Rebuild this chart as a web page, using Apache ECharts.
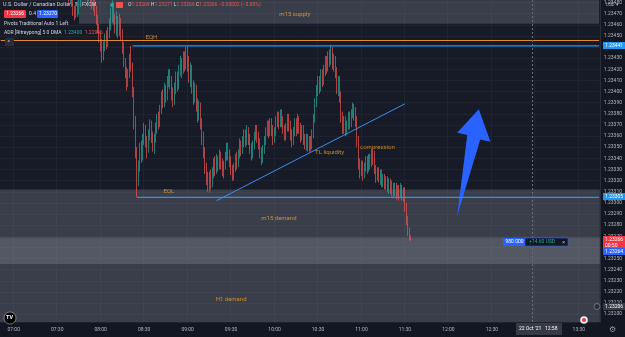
<!DOCTYPE html>
<html>
<head>
<meta charset="utf-8">
<title>USDCAD 1m</title>
<script src="https://cdn.jsdelivr.net/npm/echarts@6/dist/echarts.min.js"></script>
<style>
    html, body { margin: 0; padding: 0; background: #131722; overflow: hidden; }
    #main { width: 625px; height: 337px; }
</style>
</head>
<body>
<div id="main"></div>
<script type="text/javascript">
// prices in 1e-5 units (23266 = 1.23266), rows are [open, close, low, high]
var bars0738 = [
    [23485,23482,23478,23490],[23482,23486,23479,23489],[23486,23480,23476,23488],[23480,23474,23468,23483],
    [23474,23470,23464,23477],[23470,23476,23466,23480],[23476,23472,23467,23481],[23472,23479,23469,23484],
    [23479,23485,23476,23490],[23485,23488,23482,23494],[23488,23486,23483,23493],[23486,23490,23484,23496],
    [23490,23487,23483,23493],[23487,23484,23480,23490],[23484,23488,23481,23492],[23488,23483,23478,23491],
    [23483,23478,23474,23486],[23478,23481,23472,23485],[23481,23474,23468,23484],[23474,23466,23460,23477],
    [23466,23458,23452,23469],[23458,23450,23444,23461]
];
var bars0800 = [
    [23450,23444,23436,23453],[23444,23432,23426,23447],[23432,23440,23428,23445],[23440,23448,23436,23452],
    [23448,23444,23438,23455],[23444,23452,23440,23458],[23452,23460,23448,23466],[23460,23468,23455,23475],
    [23468,23474,23462,23482],[23474,23466,23460,23480],[23466,23458,23452,23470],[23458,23464,23450,23472],
    [23464,23455,23448,23468],[23455,23460,23450,23470],[23460,23452,23446,23466],[23452,23440,23434,23456],
    [23440,23426,23422,23444],[23426,23418,23412,23430],[23418,23408,23401,23422],[23408,23416,23404,23420],
    [23416,23430,23412,23434],[23430,23422,23418,23441],[23422,23400,23395,23426],[23400,23372,23366,23404],
    [23372,23345,23340,23378],[23345,23322,23305,23350],[23322,23334,23315,23338],[23334,23350,23328,23354],
    [23350,23342,23336,23356],[23342,23358,23338,23362],[23358,23366,23352,23372],[23366,23355,23350,23370],
    [23355,23348,23340,23360],[23348,23362,23345,23366],[23362,23370,23356,23375],[23370,23360,23354,23374],
    [23360,23352,23346,23364],[23352,23358,23344,23362],[23358,23366,23354,23372],[23366,23376,23362,23380],
    [23376,23372,23366,23382],[23372,23384,23368,23388],[23384,23395,23380,23400],[23395,23390,23385,23402],
    [23390,23402,23386,23408],[23402,23396,23390,23406],[23396,23408,23392,23414],[23408,23416,23404,23420],
    [23416,23410,23402,23420],[23410,23398,23392,23414],[23398,23392,23386,23404],[23392,23404,23388,23408],
    [23404,23412,23398,23418],[23412,23406,23400,23418],[23406,23418,23402,23424],[23418,23426,23414,23432],
    [23426,23420,23412,23430],[23420,23430,23416,23436],[23430,23424,23418,23436],[23424,23434,23420,23440]
];
var bars0900 = [
    [23434,23426,23418,23441],[23426,23414,23408,23432],[23414,23420,23404,23426],[23420,23406,23398,23424],
    [23406,23396,23388,23410],[23396,23402,23390,23408],[23402,23390,23382,23406],[23390,23380,23372,23394],
    [23380,23386,23374,23392],[23386,23372,23366,23390],[23372,23360,23352,23376],[23360,23346,23340,23364],
    [23346,23332,23326,23350],[23332,23322,23316,23336],[23322,23316,23310,23328],[23316,23325,23309,23328],
    [23325,23318,23312,23330],[23318,23328,23314,23332],[23328,23336,23322,23340],[23336,23330,23324,23342],
    [23330,23338,23326,23344],[23338,23334,23328,23342],[23334,23342,23330,23348],[23342,23336,23330,23346],
    [23336,23328,23324,23340],[23328,23334,23322,23338],[23334,23342,23330,23346],[23342,23350,23338,23354],
    [23350,23344,23338,23354],[23344,23338,23332,23348],[23338,23330,23325,23342],[23330,23324,23320,23334],
    [23324,23332,23320,23336],[23332,23340,23328,23344],[23340,23336,23330,23346],[23336,23344,23332,23348],
    [23344,23352,23340,23358],[23352,23348,23342,23356],[23348,23356,23344,23360],[23356,23362,23350,23366],
    [23362,23356,23350,23366],[23356,23364,23352,23370],[23364,23358,23352,23368],[23358,23350,23344,23362],
    [23350,23344,23338,23354],[23344,23352,23340,23356],[23352,23360,23348,23364],[23360,23366,23356,23370],
    [23366,23360,23354,23370],[23360,23354,23348,23364],[23354,23346,23340,23358],[23346,23340,23334,23350],
    [23340,23348,23336,23352],[23348,23356,23344,23360],[23356,23364,23352,23368],[23364,23370,23360,23374],
    [23370,23364,23358,23374],[23364,23372,23360,23376],[23372,23366,23360,23376],[23366,23358,23352,23370]
];
var bars1000 = [
    [23358,23364,23354,23368],[23364,23372,23360,23378],[23372,23378,23368,23382],[23378,23372,23366,23382],
    [23372,23380,23368,23384],[23380,23374,23368,23384],[23374,23366,23362,23378],[23366,23360,23356,23370],
    [23360,23368,23356,23372],[23368,23376,23364,23380],[23376,23370,23364,23380],[23370,23362,23356,23374],
    [23362,23356,23350,23366],[23356,23364,23352,23368],[23364,23372,23360,23376],[23372,23366,23360,23376],
    [23366,23374,23362,23380],[23374,23368,23362,23378],[23368,23360,23354,23372],[23360,23366,23356,23370],
    [23366,23358,23352,23370],[23358,23352,23348,23362],[23352,23358,23347,23362],[23358,23352,23346,23362],
    [23352,23356,23346,23360],[23356,23350,23346,23360],[23350,23362,23348,23366],[23362,23376,23358,23380],
    [23376,23390,23372,23394],[23390,23402,23386,23406],[23402,23410,23396,23414],[23410,23404,23398,23414],
    [23404,23416,23400,23420],[23416,23410,23404,23420],[23410,23420,23406,23424],[23420,23428,23414,23432],
    [23428,23422,23416,23432],[23422,23432,23418,23436],[23432,23428,23422,23438],[23428,23436,23424,23442],
    [23436,23424,23420,23440],[23424,23430,23418,23434],[23430,23418,23412,23432],[23418,23404,23398,23422],
    [23404,23410,23396,23414],[23410,23396,23390,23414],[23396,23378,23372,23400],[23378,23368,23362,23382],
    [23368,23374,23362,23378],[23374,23366,23360,23378],[23366,23370,23361,23374],[23370,23378,23366,23382],
    [23378,23372,23366,23382],[23372,23380,23368,23384],[23380,23386,23376,23390],[23386,23380,23374,23389],
    [23380,23374,23368,23386],[23374,23356,23350,23378],[23356,23336,23330,23360],[23336,23328,23322,23340]
];
var bars1100 = [
    [23328,23334,23324,23338],[23334,23326,23320,23338],[23326,23332,23322,23336],[23332,23338,23328,23342],
    [23338,23332,23326,23342],[23332,23340,23328,23344],[23340,23336,23330,23344],[23336,23344,23332,23348],
    [23344,23340,23334,23348],[23340,23330,23326,23347],[23330,23324,23318,23334],[23324,23328,23320,23332],
    [23328,23322,23318,23332],[23322,23326,23316,23330],[23326,23318,23314,23330],[23318,23322,23314,23326],
    [23322,23316,23312,23326],[23316,23320,23312,23324],[23320,23314,23310,23324],[23314,23318,23308,23322],
    [23318,23312,23308,23322],[23312,23316,23306,23320],[23316,23310,23304,23318],[23310,23314,23306,23318],
    [23314,23308,23303,23318],[23308,23312,23304,23316],[23312,23308,23302,23316],[23308,23313,23304,23318],
    [23313,23306,23302,23316],[23306,23310,23301,23314],[23310,23296,23292,23314],[23296,23284,23280,23300],
    [23284,23274,23270,23288],[23274,23269,23266,23278],[23269,23266,23266,23271]
];
var segments = [['07:38', bars0738], ['08:00', bars0800], ['09:00', bars0900], ['10:00', bars1000], ['11:00', bars1100]];

// drawn levels and zones
var eqhLevel = 1.23441, eqlLevel = 1.23305, adrLevel = 1.23446, crossLevel = 1.23206;
var supplyZone = [1.23461, 1.23482];
var m15Demand = [1.23312, 1.23245];
var h1Demand = [1.23269, 1.23193];
var trendLine = [['09:20', 1.23302], ['11:30', 1.23389]];
var arrowPoints = [['12:06', 1.23288], ['12:13', 1.23361], ['12:06', 1.23363], ['12:21', 1.23384], ['12:29', 1.23355], ['12:22', 1.23357]];
var notes = [
    ['10:14', 1.23469, 'm15 supply'],
    ['08:35', 1.23449, 'EQH'],
    ['08:47', 1.23310, 'EQL'],
    ['10:38', 1.23345, 'TL liquidity'],
    ['11:11', 1.23350, 'compression'],
    ['10:03', 1.23286, 'm15 demand'],
    ['09:30', 1.23213, 'H1 demand']
];

function pad(n) { return n < 10 ? '0' + n : '' + n; }
var categories = [];
for (var m = -9; m <= 404; m++) {
    var t = 420 + m;
    categories.push(pad(Math.floor(t / 60)) + ':' + pad(t % 60));
}
function px(v) { return +(1 + v / 1e5).toFixed(5); }
var candleData = categories.map(function () { return '-'; });
segments.forEach(function (s) {
    var start = categories.indexOf(s[0]);
    s[1].forEach(function (b, i) { candleData[start + i] = b.map(px); });
});
var lastCat = categories[categories.length - 1];
var FONT = 'Roboto, "Noto Sans", sans-serif';
var zoneColor = 'rgba(150,154,166,0.28)';

var myChart = echarts.init(document.getElementById('main'));
var option = {
    backgroundColor: '#131722',
    animation: false,
    textStyle: { fontFamily: FONT },
    grid: { left: 0, top: 0, width: 603, height: 322, show: true, backgroundColor: '#171b27', borderWidth: 0 },
    xAxis: {
        type: 'category',
        data: categories,
        boundaryGap: true,
        axisLine: { show: false },
        axisTick: { show: false },
        axisLabel: {
            color: '#b2b5be', fontSize: 5, margin: 5,
            interval: function (i, v) { return (+v.slice(3)) % 30 === 0 && v !== '13:00'; }
        },
        splitLine: {
            show: true,
            interval: function (i, v) { return (+v.slice(3)) % 30 === 0; },
            lineStyle: { color: '#1f2330', width: 1 }
        }
    },
    yAxis: {
        type: 'value',
        position: 'right',
        min: 1.23193,
        max: 1.23482,
        splitNumber: 29,
        axisLine: { show: true, lineStyle: { color: '#2a2e39' } },
        axisTick: { show: false },
        axisLabel: {
            color: '#b2b5be', fontSize: 5, margin: 4, showMinLabel: false, showMaxLabel: false,
            formatter: function (v) { return v.toFixed(5); }
        },
        splitLine: { lineStyle: { color: '#1f2330', width: 1 } }
    },
    series: [
        {
            type: 'candlestick',
            z: 2,
            data: candleData,
            barWidth: 1.2,
            itemStyle: {
                color: '#26a69a', color0: '#ef5350',
                borderColor: '#26a69a', borderColor0: '#ef5350', borderWidth: 0.7
            }
        },
        {
            // zones drawn over the candles, under the lines
            type: 'line',
            z: 3,
            silent: true,
            data: [],
            markArea: {
                silent: true,
                data: [
                    [{ coord: ['07:45', supplyZone[0]], itemStyle: { color: zoneColor } }, { coord: [lastCat, supplyZone[1]] }],
                    [{ yAxis: m15Demand[0], itemStyle: { color: zoneColor } }, { yAxis: m15Demand[1] }],
                    [{ yAxis: h1Demand[0], itemStyle: { color: zoneColor } }, { yAxis: h1Demand[1] }]
                ]
            }
        },
        {
            // EQH / EQL rays
            type: 'line',
            z: 8,
            silent: true,
            symbol: 'none',
            lineStyle: { color: '#2196f3', width: 1.3 },
            data: [[categories.indexOf('08:22'), eqhLevel], [categories.length - 1, eqhLevel]]
        },
        {
            type: 'line',
            z: 8,
            silent: true,
            symbol: 'none',
            lineStyle: { color: '#2196f3', width: 1.3 },
            data: [[categories.indexOf('08:25'), eqlLevel], [categories.length - 1, eqlLevel]]
        },
        {
            type: 'line',
            z: 4,
            silent: true,
            data: [],
            markLine: {
                silent: true,
                symbol: ['none', 'none'],
                label: { show: false },
                lineStyle: { type: 'solid', width: 1 },
                data: [
                    [{ coord: [categories[0], adrLevel], lineStyle: { color: '#e08a2c', type: 'solid', width: 1 } }, { coord: [lastCat, adrLevel] }],
                    [{ coord: trendLine[0], lineStyle: { color: '#3b8eea', type: 'solid', width: 1 } }, { coord: trendLine[1] }],
                    { xAxis: '12:58', lineStyle: { color: '#6a6d78', type: [2, 2] } },
                    { yAxis: crossLevel, lineStyle: { color: '#6a6d78', type: [2, 2] } }
                ]
            }
        },
        {
            type: 'custom',
            silent: true,
            z: 5,
            data: [[0, 1.233]],
            renderItem: function (params, api) {
                var pts = arrowPoints.map(function (p) {
                    return api.coord([categories.indexOf(p[0]), p[1]]);
                });
                return { type: 'polygon', shape: { points: pts }, style: { fill: '#2962ff' } };
            }
        },
        {
            type: 'scatter',
            silent: true,
            symbolSize: 1,
            itemStyle: { color: 'rgba(0,0,0,0)' },
            z: 6,
            label: { show: true, position: 'inside', color: '#f0a22e', fontSize: 6, fontFamily: FONT },
            data: notes.map(function (n) {
                return { value: [n[0], n[1]], label: { formatter: n[2] } };
            })
        }
    ],
    graphic: [
        // legend
        { type: 'text', x: 3, y: 2, z: 20, style: { text: 'U.S. Dollar / Canadian Dollar · 1 · FXCM', fill: '#d1d4dc', font: '5.4px ' + FONT } },
        { type: 'circle', z: 20, shape: { cx: 112, cy: 5, r: 2 }, style: { fill: '#26a69a' } },
        { type: 'rect', z: 20, shape: { x: 116, y: 2, width: 7, height: 6, r: 1 }, style: { fill: '#ef5350' } },
        { type: 'text', x: 128, y: 2.5, z: 20, style: {
            text: '{k|O}{v|1.23269} {k|H}{v|1.23271} {k|L}{v|1.23266} {k|C}{v|1.23266} {v|−0.00002 (−0.00%)}',
            font: '5px ' + FONT,
            rich: { k: { fill: '#d1d4dc', font: '5px ' + FONT }, v: { fill: '#ef5350', font: '5px ' + FONT } }
        } },
        { type: 'rect', z: 20, shape: { x: 4, y: 10, width: 22, height: 8, r: 1 }, style: { fill: '#f23645' } },
        { type: 'text', x: 6, y: 11.5, z: 21, style: { text: '1.23266', fill: '#fff', font: '5px ' + FONT } },
        { type: 'text', x: 29, y: 11.5, z: 21, style: { text: '0.4', fill: '#d1d4dc', font: '5px ' + FONT } },
        { type: 'rect', z: 20, shape: { x: 37, y: 10, width: 21, height: 8, r: 1 }, style: { fill: '#2962ff' } },
        { type: 'text', x: 39, y: 11.5, z: 21, style: { text: '1.23270', fill: '#fff', font: '5px ' + FONT } },
        { type: 'text', x: 4, y: 21.5, z: 20, style: { text: 'Pivots Traditional Auto 1 Left', fill: '#d1d4dc', font: '5px ' + FONT } },
        { type: 'text', x: 4, y: 30.5, z: 20, style: {
            text: 'ADR [Ritreypong] 5 0 DMA  {g|1.23400}  {r|1.22996}',
            fill: '#d1d4dc', font: '5px ' + FONT,
            rich: { g: { fill: '#26a69a', font: '5px ' + FONT }, r: { fill: '#ef5350', font: '5px ' + FONT } }
        } },
        { type: 'rect', z: 20, shape: { x: 5, y: 38, width: 9, height: 8, r: 1 }, style: { fill: '#2a2e39' } },
        { type: 'text', x: 7.5, y: 39.5, z: 21, style: { text: '^', fill: '#d1d4dc', font: '6px ' + FONT } },
        // price scale tags
        { type: 'text', x: 606, y: 2, z: 20, style: { text: 'USD ▾', fill: '#b2b5be', font: '4.5px ' + FONT } },
        { type: 'rect', z: 20, shape: { x: 603, y: 42, width: 22, height: 7 }, style: { fill: '#2196f3' } },
        { type: 'text', x: 605, y: 43, z: 21, style: { text: '1.23441', fill: '#fff', font: '5px ' + FONT } },
        { type: 'rect', z: 20, shape: { x: 603, y: 193, width: 22, height: 7 }, style: { fill: '#2196f3' } },
        { type: 'text', x: 605, y: 194, z: 21, style: { text: '1.23305', fill: '#fff', font: '5px ' + FONT } },
        { type: 'rect', z: 20, shape: { x: 603, y: 236, width: 22, height: 12 }, style: { fill: '#f23645' } },
        { type: 'text', x: 605, y: 237, z: 21, style: { text: '1.23266\n00:50', fill: '#fff', font: '5px ' + FONT, lineHeight: 5.5 } },
        { type: 'rect', z: 20, shape: { x: 603, y: 248, width: 22, height: 7 }, style: { fill: '#2962ff' } },
        { type: 'text', x: 605, y: 249, z: 21, style: { text: '1.23264', fill: '#fff', font: '5px ' + FONT } },
        { type: 'rect', z: 20, shape: { x: 603, y: 303, width: 22, height: 7 }, style: { fill: '#363a45' } },
        { type: 'text', x: 605, y: 304, z: 21, style: { text: '1.23206', fill: '#fff', font: '5px ' + FONT } },
        { type: 'circle', z: 20, shape: { cx: 597, cy: 306.5, r: 3 }, style: { fill: '#2a2e39', stroke: '#9598a1', lineWidth: 0.6 } },
        // position line box
        { type: 'rect', z: 20, shape: { x: 503, y: 238, width: 22, height: 8 }, style: { fill: '#2962ff' } },
        { type: 'text', x: 505.5, y: 239.5, z: 21, style: { text: '980 000', fill: '#fff', font: '5px ' + FONT } },
        { type: 'rect', z: 20, shape: { x: 525, y: 238, width: 43, height: 8 }, style: { fill: '#131722', stroke: '#2962ff', lineWidth: 0.6 } },
        { type: 'text', x: 529, y: 239.5, z: 21, style: { text: '+14.60 USD', fill: '#26a69a', font: '5px ' + FONT } },
        { type: 'text', x: 562, y: 239, z: 21, style: { text: '×', fill: '#b2b5be', font: '6px ' + FONT } },
        // time scale tag and icons
        { type: 'rect', z: 20, shape: { x: 516, y: 323, width: 46, height: 12 }, style: { fill: '#363a45' } },
        { type: 'text', x: 519, y: 326.5, z: 21, style: { text: "22 Oct '21   12:58", fill: '#fff', font: '5px ' + FONT } },
        { type: 'circle', z: 20, shape: { cx: 584, cy: 320, r: 3.8 }, style: { fill: '#f0f0f0' } },
        { type: 'circle', z: 21, shape: { cx: 584, cy: 320, r: 2 }, style: { fill: '#f23645' } },
        { type: 'text', x: 609, y: 326, z: 20, style: { text: '⚙', fill: '#9598a1', font: '8px "DejaVu Sans"' } },
        { type: 'circle', z: 20, shape: { cx: 10, cy: 318, r: 6 }, style: { fill: '#000', stroke: '#d1d4dc', lineWidth: 0.5 } },
        { type: 'text', x: 6, y: 315, z: 21, style: { text: 'TV', fill: '#fff', font: 'bold 5.5px ' + FONT } }
    ]
};
myChart.setOption(option);
</script>
</body>
</html>
